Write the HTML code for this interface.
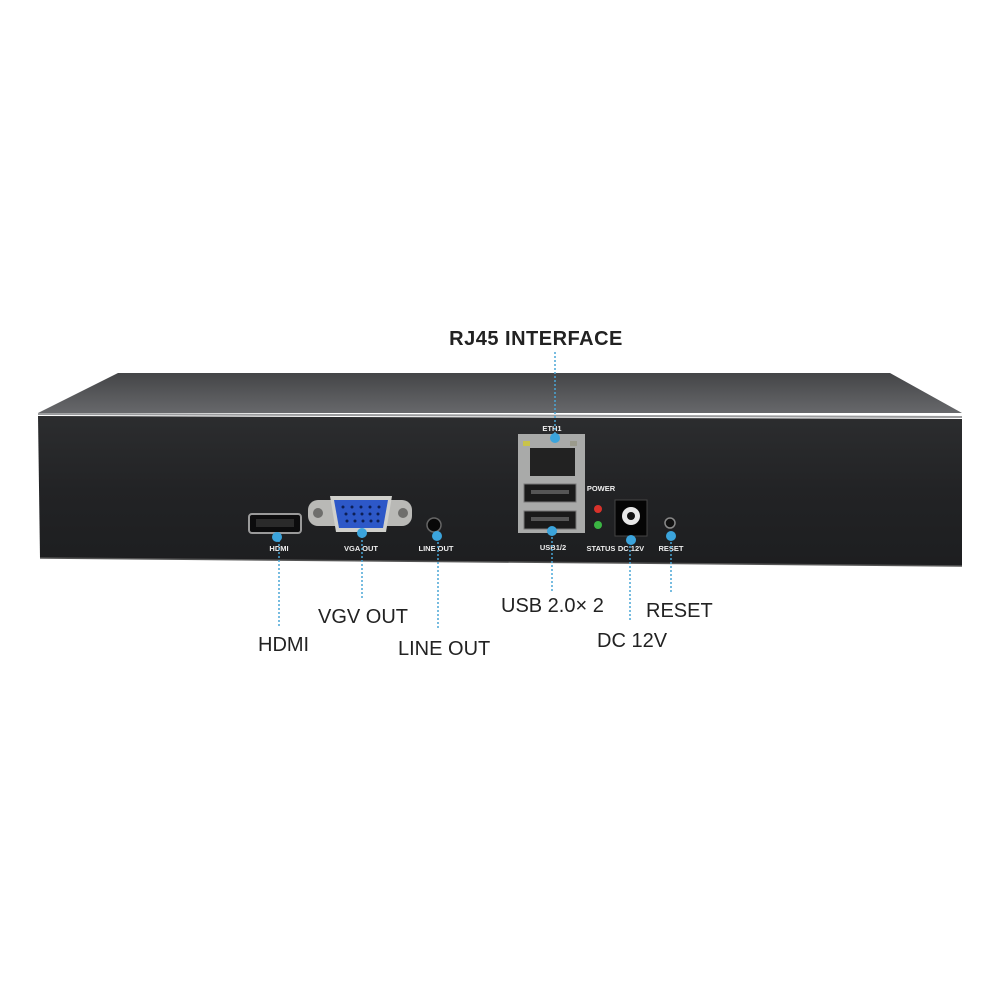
<!DOCTYPE html>
<html><head><style>
html,body{margin:0;padding:0;background:#fff;}
svg{display:block;}
text{font-family:"Liberation Sans",Arial,sans-serif;}
</style></head><body>
<svg width="1000" height="1000" viewBox="0 0 1000 1000" xmlns="http://www.w3.org/2000/svg">
<defs>
<linearGradient id="top" x1="0" y1="0" x2="0" y2="1">
<stop offset="0" stop-color="#444547"/><stop offset="1" stop-color="#67686b"/>
</linearGradient>
<linearGradient id="front" x1="0" y1="0" x2="0" y2="1">
<stop offset="0" stop-color="#2c2d2f"/><stop offset="0.5" stop-color="#222325"/><stop offset="1" stop-color="#1d1e20"/>
</linearGradient>
</defs>
<rect width="1000" height="1000" fill="#fff"/>
<polygon points="118,373 890,373 962,413 38,413" fill="url(#top)"/>
<line x1="38" y1="414" x2="962" y2="417" stroke="#9a9b9d" stroke-width="2"/>
<polygon points="38,416 962,419 962,566 40,558" fill="url(#front)"/>
<line x1="40" y1="558" x2="962" y2="566" stroke="#555" stroke-width="1.5"/>
<rect x="249" y="514" width="52" height="19" rx="3" fill="#0c0c0d" stroke="#9a9a9a" stroke-width="2"/>
<rect x="256" y="519" width="38" height="8" fill="#2a2a2a"/>
<rect x="308" y="500" width="104" height="26" rx="10" fill="#b9b9b6"/>
<circle cx="318" cy="513" r="5" fill="#6e6e6c"/><circle cx="403" cy="513" r="5" fill="#6e6e6c"/>
<path d="M330,496 H392 L386,532 H336 Z" fill="#d0d0cc"/>
<path d="M334,500 H388 L383,528 H339 Z" fill="#2d58c8"/>
<g fill="#0d1f55">
<circle cx="343" cy="507" r="1.5"/><circle cx="352" cy="507" r="1.5"/><circle cx="361" cy="507" r="1.5"/><circle cx="370" cy="507" r="1.5"/><circle cx="379" cy="507" r="1.5"/>
<circle cx="346" cy="514" r="1.5"/><circle cx="354" cy="514" r="1.5"/><circle cx="362" cy="514" r="1.5"/><circle cx="370" cy="514" r="1.5"/><circle cx="378" cy="514" r="1.5"/>
<circle cx="347" cy="521" r="1.5"/><circle cx="355" cy="521" r="1.5"/><circle cx="363" cy="521" r="1.5"/><circle cx="371" cy="521" r="1.5"/><circle cx="378" cy="521" r="1.5"/>
</g>
<circle cx="434" cy="525" r="7" fill="#080808" stroke="#666" stroke-width="1.5"/>
<rect x="518" y="434" width="67" height="99" fill="#a9aaa9"/>
<rect x="523" y="441" width="7" height="5" fill="#c9c34a"/>
<rect x="570" y="441" width="7" height="5" fill="#9a9a8c"/>
<rect x="530" y="448" width="45" height="28" fill="#222"/>
<rect x="524" y="484" width="52" height="18" fill="#1a1a1a" stroke="#777"/>
<rect x="524" y="511" width="52" height="18" fill="#1a1a1a" stroke="#777"/>
<rect x="531" y="490" width="38" height="4" fill="#555"/>
<rect x="531" y="517" width="38" height="4" fill="#555"/>
<circle cx="598" cy="509" r="4" fill="#d8322b"/>
<circle cx="598" cy="525" r="4" fill="#3bb543"/>
<rect x="615" y="500" width="32" height="36" fill="#050505" stroke="#444"/>
<circle cx="631" cy="516" r="9" fill="#e8e8e8"/><circle cx="631" cy="516" r="4" fill="#111"/>
<circle cx="670" cy="523" r="5" fill="#111" stroke="#888" stroke-width="1.5"/>
<g fill="#eee" font-size="7.5" font-weight="bold" text-anchor="middle">
<text x="279" y="551">HDMI</text>
<text x="361" y="551">VGA OUT</text>
<text x="436" y="551">LINE OUT</text>
<text x="552" y="431">ETH1</text>
<text x="553" y="550">USB1/2</text>
<text x="601" y="491">POWER</text>
<text x="601" y="551">STATUS</text>
<text x="631" y="551">DC 12V</text>
<text x="671" y="551">RESET</text>
</g>
<g stroke="#4aa6d6" stroke-width="1.5" stroke-dasharray="2,2" fill="none">
<line x1="555" y1="352" x2="555" y2="436"/>
<line x1="279" y1="540" x2="279" y2="626"/>
<line x1="362" y1="536" x2="362" y2="598"/>
<line x1="438" y1="538" x2="438" y2="628"/>
<line x1="552" y1="533" x2="552" y2="591"/>
<line x1="630" y1="542" x2="630" y2="622"/>
<line x1="671" y1="538" x2="671" y2="594"/>
</g>
<g fill="#3ba4dc">
<circle cx="555" cy="438" r="5"/>
<circle cx="277" cy="537" r="5"/>
<circle cx="362" cy="533" r="5"/>
<circle cx="437" cy="536" r="5"/>
<circle cx="552" cy="531" r="5"/>
<circle cx="631" cy="540" r="5"/>
<circle cx="671" cy="536" r="5"/>
</g>
<g fill="#222" font-size="20">
<text x="536" y="345" text-anchor="middle" font-weight="bold" letter-spacing="0.5">RJ45 INTERFACE</text>
<text x="258" y="651">HDMI</text>
<text x="318" y="623">VGV OUT</text>
<text x="398" y="655">LINE OUT</text>
<text x="501" y="612">USB 2.0× 2</text>
<text x="646" y="617">RESET</text>
<text x="597" y="647">DC 12V</text>
</g>
</svg>
</body></html>
